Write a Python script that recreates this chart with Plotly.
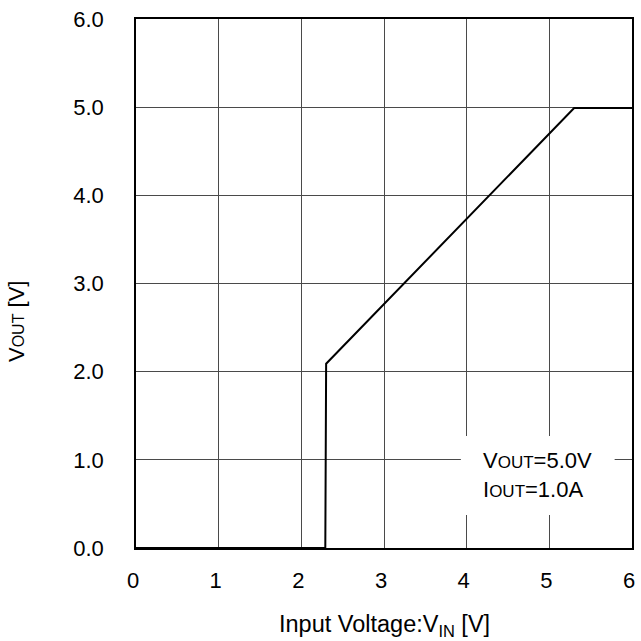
import plotly.graph_objects as go

# Output voltage vs. input voltage (VOUT=5.0V, IOUT=1.0A)
vin = [0.0, 2.29, 2.30, 5.30, 6.0]
vout = [0.0, 0.0, 2.09, 4.99, 4.99]

x_ticks = [0, 1, 2, 3, 4, 5, 6]
x_tick_text = ["0", "1", "2", "3", "4", "5", "6"]
y_ticks = [0, 1, 2, 3, 4, 5, 6]
y_tick_text = ["0.0", "1.0", "2.0", "3.0", "4.0", "5.0", "6.0"]

FONT = "Liberation Sans, Arial, sans-serif"

fig = go.Figure()
fig.add_trace(go.Scatter(
    x=vin, y=vout, mode="lines",
    line=dict(color="black", width=2),
    showlegend=False, hoverinfo="skip",
))

axis_common = dict(
    showgrid=True, gridcolor="#4a4a4a", gridwidth=1,
    showline=True, linecolor="black", linewidth=1.5, mirror=True,
    zeroline=False, ticks="",
    tickfont=dict(family=FONT, size=22, color="black"),
)

fig.update_xaxes(
    range=[0, 6], tickmode="array", tickvals=x_ticks, ticktext=x_tick_text,
    ticklabelstandoff=12, ticklabelshift=-3, **axis_common,
)
fig.update_yaxes(
    range=[0, 6], tickmode="array", tickvals=y_ticks, ticktext=y_tick_text,
    ticklabelstandoff=26, **axis_common,
)

# White panel behind the condition note, covering the grid
fig.add_shape(
    type="rect", xref="x", yref="y",
    x0=3.93, x1=5.79, y0=0.375, y1=1.27,
    fillcolor="white", line=dict(width=0), layer="between",
)
fig.add_annotation(
    x=4.17, y=0.83, xref="x", yref="y",
    text="V<span style='font-size:17px'>OUT</span>=5.0V<br>"
         "I<span style='font-size:17px'>OUT</span>=1.0A",
    showarrow=False, align="left",
    font=dict(family=FONT, size=22, color="black"),
    xanchor="left", yanchor="middle",
)

# Axis titles
fig.add_annotation(
    x=0.5, y=-0.116, xref="paper", yref="paper",
    text="Input Voltage:V<sub>IN</sub> [V]",
    showarrow=False, xanchor="center", yanchor="top",
    font=dict(family=FONT, size=23.5, color="black"),
)
fig.add_annotation(
    x=-0.242, y=0.429, xref="paper", yref="paper",
    text="V<span style='font-size:16px'>OUT</span> [V]",
    textangle=-90, showarrow=False, xanchor="center", yanchor="middle",
    font=dict(family=FONT, size=22, color="black"),
)

fig.update_layout(
    width=641, height=641,
    margin=dict(l=136, r=6, t=19, b=93),
    plot_bgcolor="white", paper_bgcolor="white",
)

fig.write_html("out.html")
